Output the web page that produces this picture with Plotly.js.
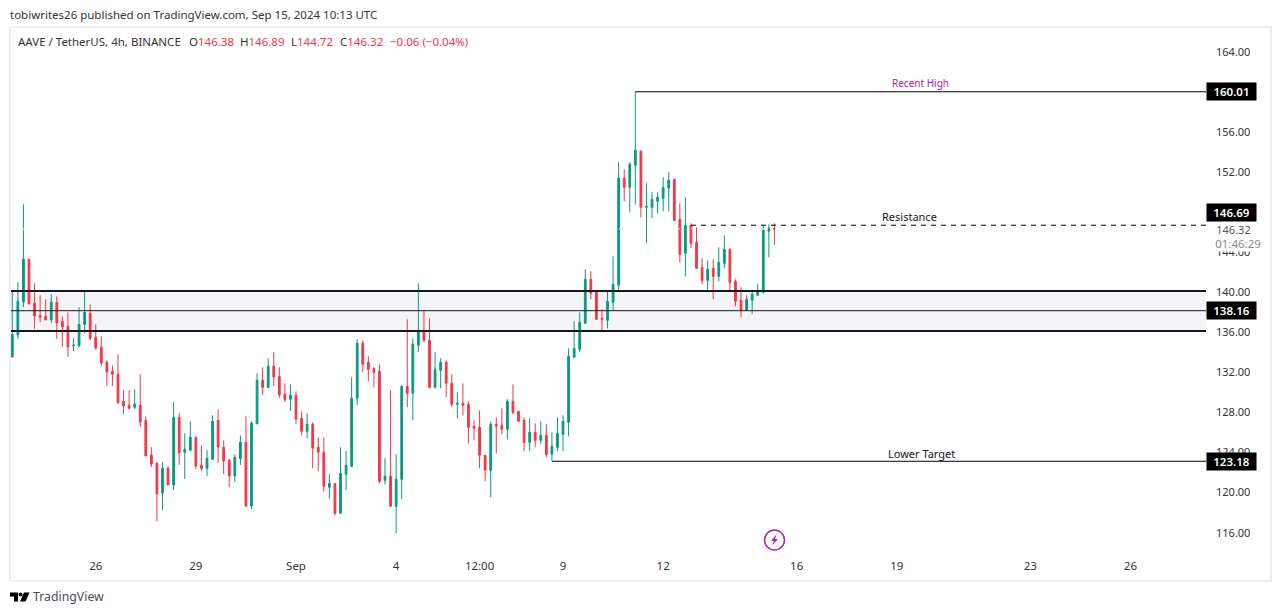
<!DOCTYPE html>
<html>
<head>
<meta charset="utf-8">
<script src="https://cdn.plot.ly/plotly-3.0.1.min.js"></script>
<style>html,body{margin:0;padding:0;background:#fff;overflow:hidden}</style>
</head>
<body>
<div id="chart" style="width:1281px;height:615px"></div>
<script>
const firstBar = Date.UTC(2024, 7, 23, 12);
const barHours = 4;

const open = [133.54,135.74,139.03,143.29,138.90,137.70,137.60,137.24,139.00,137.10,136.60,134.64,134.64,136.80,137.90,135.51,134.51,133.01,132.11,131.81,
129.12,128.72,128.52,128.72,127.22,123.73,122.93,119.97,122.43,120.77,127.52,124.03,124.23,125.52,122.73,122.43,123.33,127.22,124.53,123.23,
121.67,123.43,125.03,118.67,126.86,131.21,130.51,132.61,131.61,129.82,129.32,129.72,127.42,126.12,126.82,124.53,124.03,120.53,120.90,117.94,
121.83,122.63,129.42,134.91,133.01,132.41,132.11,121.23,121.63,118.64,121.33,130.61,129.92,134.71,136.10,135.21,130.51,132.21,133.01,130.91,
128.82,128.92,128.82,126.62,126.52,123.73,122.23,126.82,126.72,126.32,129.12,128.12,127.22,125.03,126.02,125.22,125.72,123.83,124.53,125.82,
127.02,133.51,134.31,136.90,141.29,140.10,137.40,137.20,139.00,140.70,151.38,150.48,152.67,154.07,148.48,148.48,149.08,149.38,150.38,151.28,
147.28,143.89,146.68,144.99,142.49,141.19,142.39,141.59,142.89,144.29,141.09,139.20,138.20,139.20,139.70,140.00,146.09,146.38];
const high = [140.13,141.00,148.78,143.36,140.90,139.70,139.30,139.80,139.60,137.60,138.00,135.41,138.50,140.06,138.80,136.80,135.61,133.21,132.71,133.81,
130.22,130.22,130.32,131.81,127.62,124.53,123.03,123.03,122.63,129.02,127.92,125.92,127.12,125.62,124.73,124.23,127.72,128.32,125.22,123.33,
123.83,125.72,127.62,127.12,131.91,132.51,133.41,134.01,132.51,130.91,130.81,130.12,128.12,127.92,127.02,125.52,125.52,121.83,120.93,124.53,
124.13,131.51,135.31,135.21,133.61,132.51,132.81,123.43,130.22,123.83,130.71,137.30,135.41,140.90,138.20,137.40,134.01,133.41,133.21,131.81,
130.02,130.91,129.12,127.22,128.22,123.73,127.12,127.52,128.42,129.32,130.81,128.12,127.52,127.42,126.92,127.12,126.82,126.02,127.52,127.72,
134.41,137.10,138.00,142.29,142.09,140.20,138.30,140.20,143.59,152.97,152.27,152.97,160.01,154.17,150.88,149.98,149.98,151.48,151.97,151.28,
148.88,149.48,146.88,146.48,143.39,143.19,143.29,144.49,145.69,144.39,141.29,140.50,139.70,140.10,140.80,146.68,146.78,146.89];
const low = [133.54,135.34,138.53,138.83,136.34,137.00,137.24,136.94,135.34,134.54,133.54,134.14,134.51,135.94,135.24,134.24,132.64,130.65,130.65,128.95,
127.85,128.35,128.35,126.56,123.66,122.56,117.17,118.27,120.77,120.27,122.76,121.37,124.13,122.36,122.13,121.67,123.26,122.96,121.86,120.57,
121.07,122.76,118.57,118.37,126.86,129.75,130.42,130.65,129.45,129.05,128.15,126.86,125.72,125.42,122.43,122.13,120.13,119.34,117.74,117.94,
120.23,122.53,128.72,132.01,131.11,130.51,120.93,120.83,118.64,115.94,119.34,128.52,127.22,134.01,135.01,130.42,130.42,130.42,129.52,128.52,
127.42,127.72,124.93,125.22,122.43,121.13,119.54,123.93,125.82,125.32,127.82,127.12,124.13,124.13,124.53,124.83,123.53,123.18,124.13,124.13,
125.62,133.51,134.01,136.90,139.30,137.30,136.20,136.40,138.20,140.20,149.08,147.98,148.78,147.48,144.89,147.38,147.88,148.08,148.08,147.08,
142.99,141.59,144.39,142.39,140.80,140.10,139.30,141.09,142.39,140.10,138.60,137.50,138.20,137.80,139.70,139.90,143.49,144.72];
const close = [135.80,139.10,143.29,138.83,137.63,137.50,137.24,139.00,136.94,136.54,134.54,134.71,136.80,138.00,135.41,134.44,132.94,132.05,131.81,128.95,
128.65,128.42,128.82,127.05,123.66,122.86,119.87,122.43,120.77,127.52,123.96,124.33,125.52,122.66,122.43,123.43,127.12,124.56,123.16,121.67,
123.53,125.03,118.67,126.92,131.21,130.51,132.61,131.55,129.75,129.32,129.72,127.35,126.12,126.82,124.43,124.03,120.63,120.93,117.94,121.93,
122.73,129.42,134.91,132.81,132.31,132.01,121.13,121.63,118.64,121.33,130.61,129.92,134.81,136.10,135.21,130.51,132.31,133.01,130.91,128.82,
128.92,128.72,126.52,126.42,123.73,122.23,126.82,126.62,126.32,129.12,128.02,127.12,125.03,126.02,125.22,125.72,123.79,124.63,125.92,127.12,
133.61,134.41,137.00,141.29,139.90,137.30,137.30,139.10,140.80,151.38,150.48,152.77,154.17,148.48,148.58,149.28,149.48,150.48,151.18,147.18,
143.79,146.68,144.89,142.39,141.19,142.29,141.59,142.99,144.29,140.99,139.10,138.20,139.30,139.80,140.10,146.19,146.38,146.32];

const priceTicks = [164,156,152,144,140,136,132,128,124,120,116];
const priceTickText = ['164.00','156.00','152.00','144.00','140.00','136.00','132.00','128.00','124.00','120.00','116.00'];
const timeTicks = ['2024-08-26','2024-08-29','2024-09-01','2024-09-04','2024-09-06 12:00','2024-09-09','2024-09-12','2024-09-16','2024-09-19','2024-09-23','2024-09-26'];
const timeTickText = ['26','29','Sep','4','12:00','9','12','16','19','23','26'];

const zoneTop = 140.13, zoneMid = 138.16, zoneBottom = 136.13;
const recentHigh = 160.01, resistance = 146.69, lowerTarget = 123.13, lastClose = 146.32;
const recentHighBar = 112, resistanceBar = 122, lowerTargetBar = 97;

const times = open.map((_, i) => new Date(firstBar + i * barHours * 3600000).toISOString().slice(0, 19));
const xStart = '2024-08-23 11:04', xEnd = '2024-09-28 06:20';

const L = 11, R = 1206, T = 28, B = 548;
const fx = p => (p - L) / (R - L);
const fy = p => (B - p) / (B - T);
const FONT = '"Noto Sans", sans-serif';
const RED = '#f23645', GREEN = '#089981', INK = '#131722', PURPLE = '#9c27b0';

function txt(px, py, text, color, size, anchor, extra) {
  return Object.assign({x: fx(px), y: fy(py), xref: 'paper', yref: 'paper', xanchor: anchor || 'left', yanchor: 'middle',
    showarrow: false, text: text, font: {family: FONT, size: size || 12, color: color || '#333'}}, extra || {});
}
function tag(price, label, yshift) {
  return {x: 1, y: price, yshift: yshift || 0, xref: 'paper', yref: 'y', xanchor: 'left', yanchor: 'middle', showarrow: false, text: label,
    bgcolor: '#000', width: 47, height: 15, borderpad: 1,
    font: {family: FONT, size: 11.5, color: '#fff', weight: 600}};
}
function pxPath(pts) {
  return 'M' + pts.map(p => fx(p[0]) + ',' + fy(p[1])).join('L') + 'Z';
}
function pathShape(pts, color) {
  return {type: 'path', xref: 'paper', yref: 'paper', path: pxPath(pts), fillcolor: color, line: {width: 0}, layer: 'above'};
}

const annotations = [
  txt(8, 14, 'tobiwrites26 published on TradingView.com, Sep 15, 2024 10:13 UTC', '#333', 11.5),
  txt(16, 41, 'AAVE / TetherUS, 4h, BINANCE', '#333', 11.5),
  txt(187, 41, 'O<span style="color:' + RED + '">146.38</span>', '#333', 11.5),
  txt(238, 41, 'H<span style="color:' + RED + '">146.89</span>', '#333', 11.5),
  txt(289, 41, 'L<span style="color:' + RED + '">144.72</span>', '#333', 11.5),
  txt(338, 41, 'C<span style="color:' + RED + '">146.32</span>', '#333', 11.5),
  txt(388, 41, '−0.06 (−0.04%)', RED, 11.5),
  txt(920, 83, 'Recent High', PURPLE, 10, 'center'),
  txt(909, 216, 'Resistance', INK, 11, 'center'),
  txt(921, 453, 'Lower Target', INK, 11, 'center'),
  txt(31, 596, 'TradingView', '#4a4e57', 12.3),
  {x: 1, y: lastClose, xshift: 1, xref: 'paper', yref: 'y', xanchor: 'left', yanchor: 'middle', showarrow: false, text: '146.32',
   bgcolor: '#fff', width: 49, height: 12, font: {family: FONT, size: 11, color: '#555'}},
  {x: 1, y: lastClose, yshift: -14, xshift: 2, xref: 'paper', yref: 'y', xanchor: 'left', yanchor: 'middle', showarrow: false, text: '01:46:29',
   bgcolor: '#fff', width: 56, height: 14, font: {family: FONT, size: 11.5, color: '#888'}},
  tag(recentHigh, '160.01'),
  tag(resistance, '146.69', 13),
  tag(zoneMid, '138.16'),
  tag(lowerTarget, '123.18')
];

const shapes = [
  {type: 'rect', xref: 'paper', yref: 'paper', x0: fx(10), x1: fx(1271), y0: fy(581), y1: fy(27), line: {color: '#eeeef3', width: 2}, fillcolor: 'rgba(0,0,0,0)', layer: 'below'},
  {type: 'rect', xref: 'paper', yref: 'y', x0: 0, x1: 1, y0: zoneBottom, y1: zoneTop, fillcolor: '#f5f5f7', line: {width: 0}, layer: 'below'},
  {type: 'line', xref: 'paper', yref: 'y', x0: 0, x1: 1, y0: zoneTop, y1: zoneTop, line: {color: INK, width: 2}, layer: 'above'},
  {type: 'line', xref: 'paper', yref: 'y', x0: 0, x1: 1, y0: zoneMid, y1: zoneMid, line: {color: INK, width: 1}, layer: 'above'},
  {type: 'line', xref: 'paper', yref: 'y', x0: 0, x1: 1, y0: zoneBottom, y1: zoneBottom, line: {color: INK, width: 2}, layer: 'above'},
  {type: 'line', xref: 'x', yref: 'y', x0: times[recentHighBar], x1: xEnd, y0: recentHigh, y1: recentHigh, line: {color: '#000', width: 1}, layer: 'above'},
  {type: 'line', xref: 'x', yref: 'y', x0: times[resistanceBar], x1: xEnd, y0: resistance, y1: resistance, line: {color: '#000', width: 1, dash: '5px,5px'}, layer: 'above'},
  {type: 'line', xref: 'x', yref: 'y', x0: times[lowerTargetBar], x1: xEnd, y0: lowerTarget, y1: lowerTarget, line: {color: '#000', width: 1}, layer: 'above'},
  {type: 'line', xref: 'paper', yref: 'y', x0: 0, x1: 1, y0: lastClose, y1: lastClose, line: {color: '#fff', width: 1, dash: '1px,3px'}, layer: 'above'},
  {type: 'circle', xref: 'paper', yref: 'paper', x0: fx(764.5), x1: fx(784.5), y0: fy(550), y1: fy(530), line: {color: PURPLE, width: 1.5}, fillcolor: 'rgba(0,0,0,0)', layer: 'above'},
  pathShape([[776.5,534.5],[771,541],[774,541],[772,545.5],[778,539],[775,539]], PURPLE),
  pathShape([[10,592.5],[18,592.5],[18,601.5],[14,601.5],[14,596.5],[10,596.5]], '#000'),
  {type: 'circle', xref: 'paper', yref: 'paper', x0: fx(18.5), x1: fx(22.5), y0: fy(596.5), y1: fy(592.5), fillcolor: '#000', line: {width: 0}, layer: 'above'},
  pathShape([[24,592.5],[29.5,592.5],[25.5,601.5],[20,601.5]], '#000')
];

const trace = {
  type: 'candlestick', x: times, open: open, high: high, low: low, close: close,
  increasing: {line: {color: GREEN, width: 1}, fillcolor: GREEN},
  decreasing: {line: {color: RED, width: 1}, fillcolor: RED},
  whiskerwidth: 0, hoverinfo: 'skip', showlegend: false
};

const layout = {
  width: 1281, height: 615, paper_bgcolor: '#fff', plot_bgcolor: 'rgba(0,0,0,0)',
  margin: {l: L, r: 1281 - R, t: T, b: 615 - B, pad: 0},
  showlegend: false, dragmode: false, font: {family: FONT, size: 12, color: '#333'}, boxgap: 0.55,
  xaxis: {type: 'date', range: [xStart, xEnd], rangeslider: {visible: false}, showgrid: false, zeroline: false, showline: false,
    ticks: '', tickmode: 'array', tickvals: timeTicks, ticktext: timeTickText, tickangle: 0, ticklabelstandoff: 9,
    tickfont: {family: FONT, size: 11.5, color: '#333'}},
  yaxis: {side: 'right', range: [114.475, 166.375], showgrid: false, zeroline: false, showline: false, ticks: '',
    tickmode: 'array', tickvals: priceTicks, ticktext: priceTickText, ticklabelstandoff: 9,
    tickfont: {family: FONT, size: 11, color: '#333'}},
  shapes: shapes, annotations: annotations
};

Plotly.newPlot('chart', [trace], layout, {displayModeBar: false, staticPlot: true});
</script>
</body>
</html>
